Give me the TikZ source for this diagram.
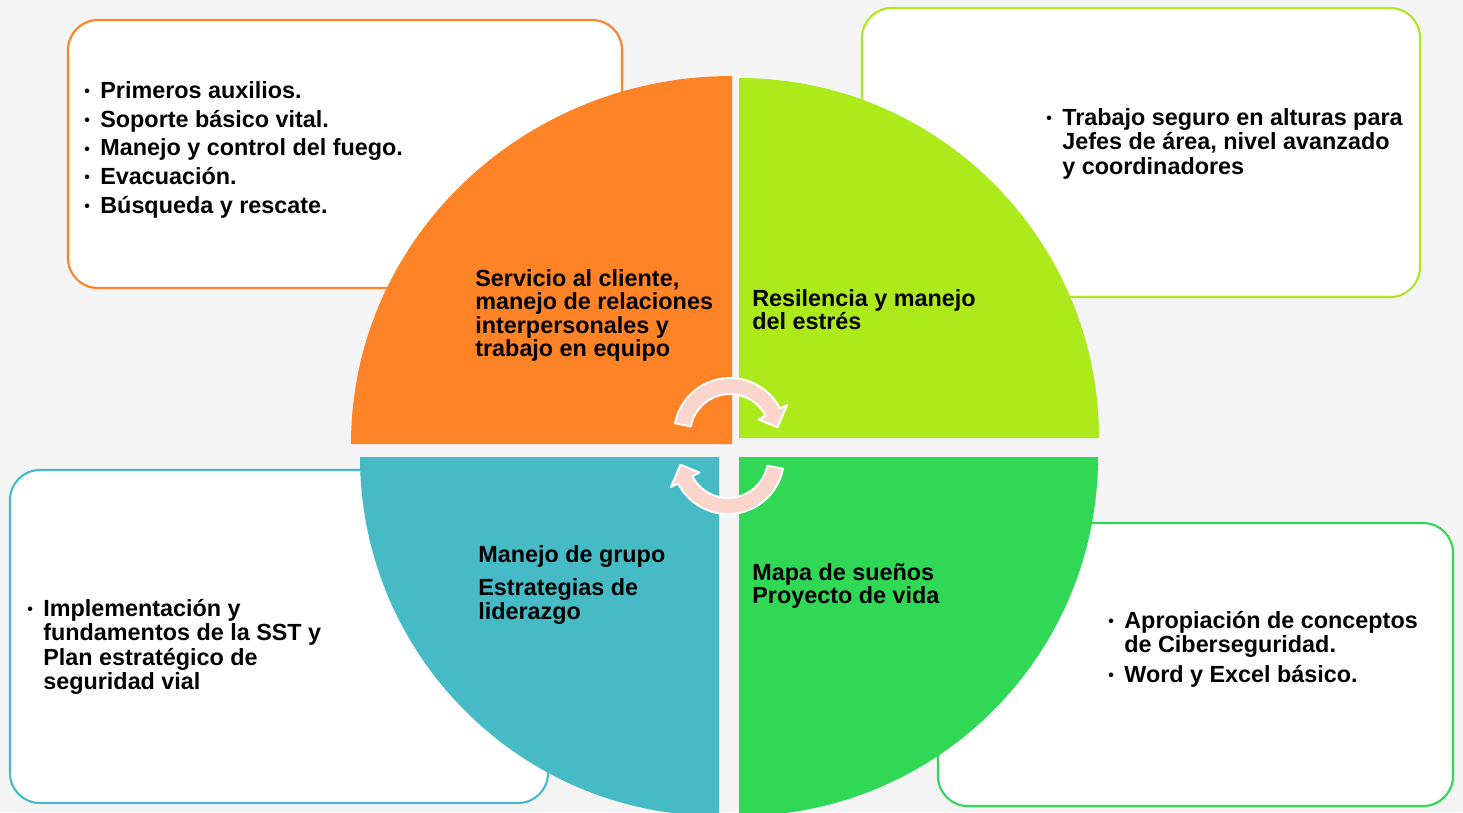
\documentclass[tikz,border=0pt]{standalone}
\usepackage{fontspec}
\setmainfont{Liberation Sans}
\usetikzlibrary{calc}
\definecolor{bgmarble}{RGB}{244,244,245}
\definecolor{qOrange}{RGB}{253,131,38}
\definecolor{qLime}{RGB}{172,234,28}
\definecolor{qTeal}{RGB}{70,187,198}
\definecolor{qGreen}{RGB}{48,216,86}
\definecolor{turnpink}{RGB}{251,212,203}
\tikzset{
	card/.style={draw=#1, line width=1.2pt, rounded corners=17pt, fill=white},
	txt/.style={anchor=north west, inner sep=0pt, align=left, font=\bfseries\fontsize{13.3}{#1}\selectfont},
	turn/.style={fill=turnpink, draw=white, line width=1.1pt, line join=round},
}
\newcommand{\bul}{\llap{\raisebox{1pt}{\fontsize{9}{9}\selectfont\textbullet}\hspace{6pt}}}

\begin{document}
\begin{tikzpicture}[x=0.02cm, y=-0.02cm]
	\clip (0,0) rectangle (1463,812);
	\fill[bgmarble] (0,0) rectangle (1463,812);
	
	% cajas
	\draw[card=qOrange] (68,20) rectangle (622,288);
	\draw[card=qLime] (862,8) rectangle (1420,297);
	\draw[card=qTeal] (10,470) rectangle (548,803);
	\draw[card=qGreen] (938,523) rectangle (1453,806);
	
	% circulo
	\coordinate (O1) at (732,444);
	\coordinate (O2) at (739,438);
	\coordinate (O3) at (719,457);
	\coordinate (O4) at (739,457);
	\fill[qOrange] (O1) -- ++(-381,0) arc[start angle=180, end angle=270, x radius=381, y radius=368] -- cycle;
	\fill[qLime] (O2) -- ++(0,-360) arc[start angle=270, end angle=360, radius=360] -- cycle;
	\fill[qTeal] (O3) -- ++(-359,0) arc[start angle=180, end angle=90, radius=359] -- cycle;
	\fill[qGreen] (O4) -- ++(359,0) arc[start angle=0, end angle=90, radius=359] -- cycle;
	
	\node[txt=16.4] (aux) at (100,81) {\bul Primeros auxilios.\\ \bul Soporte básico vital.\\ \bul Manejo y control del fuego.\\ \bul Evacuación.\\ \bul Búsqueda y rescate.};
	\node[txt=13.9] (alt) at (1062,108) {\bul Trabajo seguro en alturas para\\ Jefes de área, nivel avanzado\\ y coordinadores};
	\node[txt=13.9] (sst) at (43,599) {\bul Implementación y\\ fundamentos de la SST y\\ Plan estratégico de\\ seguridad vial};
	\node[txt=13.6] (cib) at (1124,611) {\bul Apropiación de conceptos\\ de Ciberseguridad.\\[3.4pt] \bul Word y Excel básico.};
	
	\node[txt=13.4] (serv) at (475,269) {Servicio al cliente,\\ manejo de relaciones\\ interpersonales y\\ trabajo en equipo};
	\node[txt=13.4] (res) at (752,289) {Resilencia y manejo\\ del estrés};
	\node[txt=13.4] (lid) at (478,545) {Manejo de grupo\\[5.7pt] Estrategias de\\ liderazgo};
	\node[txt=13.4] (vida) at (752,563) {Mapa de sueños\\ Proyecto de vida};
	
	% flechas del centro
	\begin{scope}[shift={(730,434)}]
		\draw[turn] (191:56) arc[start angle=191, end angle=333, radius=56] -- (333:64) -- (352:48) -- (333:32) -- (333:40) arc[start angle=333, end angle=191, radius=40] -- cycle;
	\end{scope}
	\begin{scope}[shift={(728,458)}]
		\draw[turn] (11:56) arc[start angle=11, end angle=153, radius=56] -- (153:64) -- (172:48) -- (153:32) -- (153:40) arc[start angle=153, end angle=11, radius=40] -- cycle;
	\end{scope}
\end{tikzpicture}
\end{document}
